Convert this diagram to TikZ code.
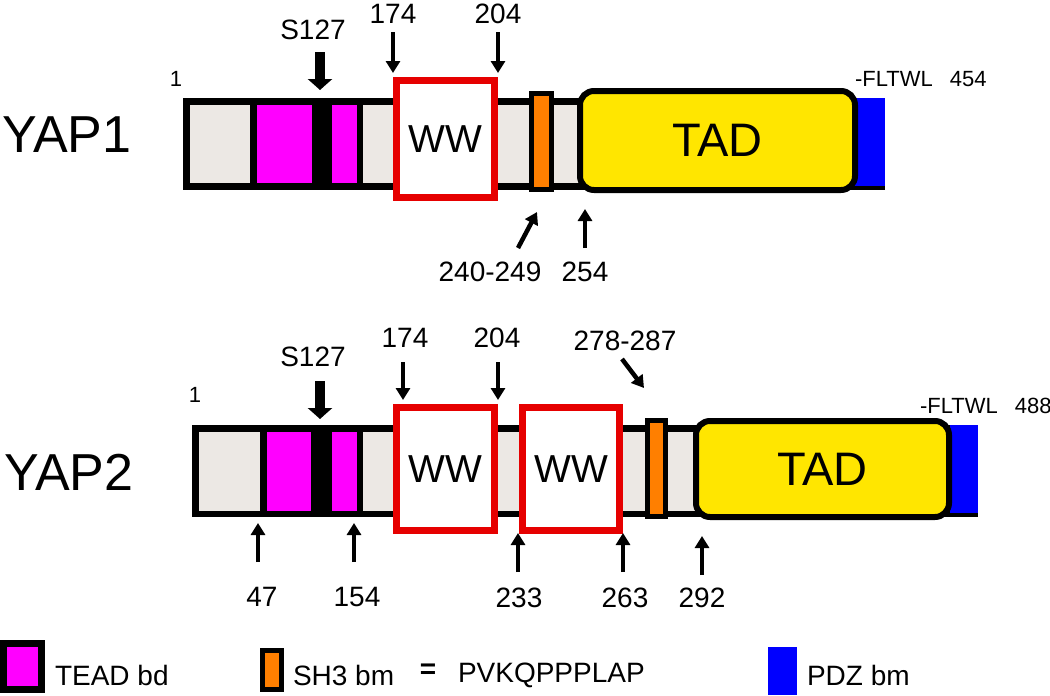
\documentclass[tikz,border=0pt]{standalone}
\usepackage{fontspec}
\setmainfont{Liberation Sans}
\usetikzlibrary{arrows.meta, positioning}
\definecolor{bargrey}{HTML}{ECE8E4}
\definecolor{teadpink}{HTML}{FF00FF}
\definecolor{shorange}{HTML}{FF7F00}
\definecolor{tadyellow}{HTML}{FFE600}
\definecolor{pdzblue}{HTML}{0000FF}
\definecolor{wwred}{HTML}{E60000}
\newcommand{\fsz}[1]{\fontsize{#1}{#1}\selectfont}
\tikzset{x = 1pt, y = -1pt,
	 every node/.style = {inner sep = 0pt, outer sep = 0pt},
	 num/.style = {font = \fsz{28}},
	 small/.style = {font = \fsz{22}},
	 protein/.style = {font = \fsz{52}},
	 legend/.style = {font = \fsz{28}, anchor = west},
	 ww/.style = {draw = wwred, line width = 7pt, fill = white,
		      font = \fsz{39}, minimum width = 98pt},
	 tad/.style = {draw = black, line width = 6pt, fill = tadyellow,
		       rounded corners = 14pt, font = \fsz{47}},
	 sh3/.style = {draw = black, line width = 5pt, fill = shorange},
	 pin/.style = {line width = 4.5pt,
		       -{Triangle[width = 14pt, length = 12pt]}},
	 phos/.style = {line width = 10pt,
			-{Triangle[width = 24pt, length = 11pt]}}}

\begin{document}
\begin{tikzpicture}
      \useasboundingbox (0,0) rectangle (1050,696);
      % YAP1
      \node [protein] (yap1) at (67,135) {YAP1};
      \fill [black] (183,98) rectangle (885,190);
      \fill [bargrey] (190,105) rectangle (250,183);
      \fill [teadpink] (257,105) rectangle (312,183);
      \fill [teadpink] (332,105) rectangle (357,183);
      \fill [bargrey] (363,105) rectangle (600,183);
      \fill [pdzblue] (853,98) rectangle (885,186);
      \node [ww, minimum height = 117pt] (ww1) at (445.5,139) {WW};
      \node [sh3, minimum width = 20pt, minimum height = 96pt] (sh31) at (541.5,141.5) {};
      \node [tad, minimum width = 275pt, minimum height = 99pt] (tad1) at (717.5,140.5) {TAD};
      \node [small] (start1) at (176,79) {1};
      \node [small, anchor = west] (end1) at (855,79) {-FLTWL\hspace{17pt}454};
      \node [num] (ls127a) at (313,30) {S127};
      \node [num] (l174a) at (393,14) {174};
      \node [num] (l204a) at (498,14) {204};
      \node [num] (l240) at (490,272) {240-249};
      \node [num] (l254) at (585,272) {254};
      \coordinate (ts127a) at (320,52);  \coordinate (hs127a) at (320,90);
      \coordinate (t174a) at (393,32);   \coordinate (h174a) at (393,73);
      \coordinate (t204a) at (498,32);   \coordinate (h204a) at (498,73);
      \coordinate (t240) at (518,248);   \coordinate (h240) at (537,212);
      \coordinate (t254) at (585,248);   \coordinate (h254) at (585,209);
      \path [phos] (ts127a) edge (hs127a);
      \path [pin] (t174a) edge (h174a)
		  (t204a) edge (h204a)
		  (t240) edge (h240)
		  (t254) edge (h254);
      % YAP2
      \node [protein] (yap2) at (69,472) {YAP2};
      \fill [black] (192,425) rectangle (978,517);
      \fill [bargrey] (199,432) rectangle (260,511);
      \fill [teadpink] (267,432) rectangle (311,511);
      \fill [teadpink] (332,432) rectangle (357,511);
      \fill [bargrey] (363,432) rectangle (700,511);
      \fill [pdzblue] (950,425) rectangle (978,513);
      \node [ww, minimum height = 123pt] (ww2a) at (445.5,469) {WW};
      \node [ww, minimum width = 97pt, minimum height = 123pt] (ww2b) at (571,469) {WW};
      \node [sh3, minimum width = 18pt, minimum height = 96pt] (sh32) at (656.5,468.5) {};
      \node [tad, minimum width = 253pt, minimum height = 96pt] (tad2) at (822.5,469) {TAD};
      \node [small] (start2) at (195,395) {1};
      \node [small, anchor = west] (end2) at (920,406) {-FLTWL\hspace{17pt}488};
      \node [num] (ls127b) at (313,357) {S127};
      \node [num] (l174b) at (405,338) {174};
      \node [num] (l204b) at (497,338) {204};
      \node [num] (l278) at (625,341) {278-287};
      \node [num] (l47) at (262,597) {47};
      \node [num] (l154) at (357,597) {154};
      \node [num] (l233) at (519,598) {233};
      \node [num] (l263) at (625,598) {263};
      \node [num] (l292) at (702,598) {292};
      \coordinate (ts127b) at (320,381); \coordinate (hs127b) at (320,419);
      \coordinate (t174b) at (403,362);  \coordinate (h174b) at (403,400);
      \coordinate (t204b) at (498,362);  \coordinate (h204b) at (498,400);
      \coordinate (t278) at (622,359);   \coordinate (h278) at (644,388);
      \coordinate (t47) at (258,562);    \coordinate (h47) at (258,523);
      \coordinate (t154) at (354,562);   \coordinate (h154) at (354,523);
      \coordinate (t233) at (518,572);   \coordinate (h233) at (518,533);
      \coordinate (t263) at (623,572);   \coordinate (h263) at (623,533);
      \coordinate (t292) at (702,575);   \coordinate (h292) at (702,536);
      \path [phos] (ts127b) edge (hs127b);
      \path [pin] (t174b) edge (h174b)
		  (t204b) edge (h204b)
		  (t278) edge (h278)
		  (t47) edge (h47)
		  (t154) edge (h154)
		  (t233) edge (h233)
		  (t263) edge (h263)
		  (t292) edge (h292);
      % legend
      \node [draw = black, line width = 7pt, fill = teadpink,
	     minimum width = 38pt, minimum height = 46pt] (keytead) at (22.5,666.5) {};
      \node [legend] (txttead) at (55,675) {TEAD bd};
      \node [sh3, minimum width = 19pt, minimum height = 39pt] (keysh3) at (272,670) {};
      \node [legend] (txtsh3) at (293,675) {SH3 bm};
      \node [font = \fsz{28}] (equals) at (428,671) {\textbf{=}};
      \node [legend] (txtseq) at (458,675) {PVKQPPPLAP};
      \node [fill = pdzblue, minimum width = 29pt, minimum height = 48pt] (keypdz) at (782.5,671) {};
      \node [legend] (txtpdz) at (807,675) {PDZ bm};
\end{tikzpicture}
\end{document}
